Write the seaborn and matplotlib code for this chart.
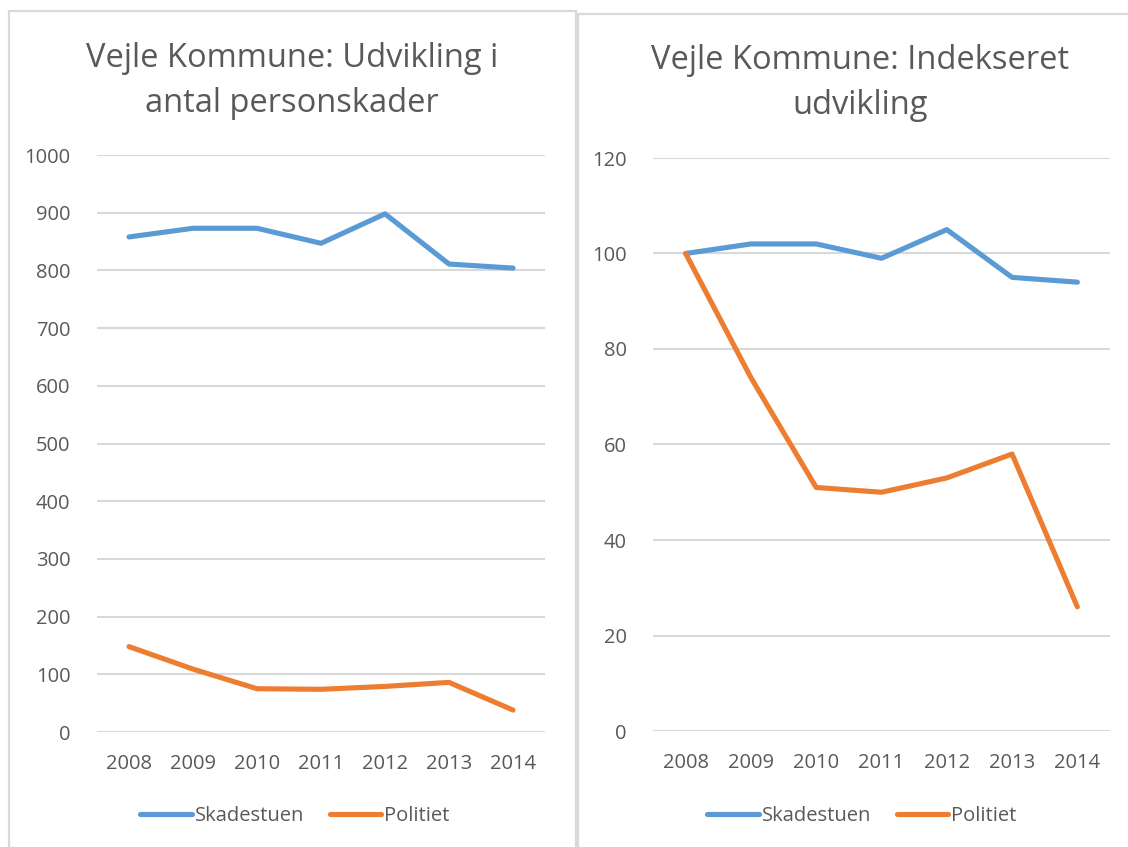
import numpy as np
import pandas as pd
import seaborn as sns
import matplotlib.pyplot as plt
from matplotlib.patches import Rectangle

years = ['2008', '2009', '2010', '2011', '2012', '2013', '2014']
skadestuen = [858, 873, 873, 847, 898, 811, 804]
politiet = [148, 109, 75, 74, 79, 86, 38]
skadestuen_idx = [100, 102, 102, 99, 105, 95, 94]
politiet_idx = [100, 74, 51, 50, 53, 58, 26]
series = ['Skadestuen', 'Politiet']
colors = ['#5B9BD5', '#ED7D31']

sns.set_theme(style='white')
plt.rcParams['font.family'] = ['Open Sans', 'DejaVu Sans']
txt = '#595959'
grid = '#D9D9D9'

def long_df(a, b):
    return pd.DataFrame({'year': years * 2,
                         'value': a + b,
                         'serie': [series[0]] * len(years) + [series[1]] * len(years)})

fig = plt.figure(figsize=(11.28, 8.47), dpi=100)
W, H = 1128, 847

# panel borders (pixel coords -> figure fraction)
for x0, y0, x1, y1 in [(9, 11, 576, 860), (578, 14, 1150, 860)]:
    fig.patches.append(Rectangle((x0 / W, 1 - y1 / H), (x1 - x0) / W, (y1 - y0) / H,
                                 transform=fig.transFigure, fill=False,
                                 edgecolor=grid, lw=1.6, zorder=0))

panels = [
    dict(rect=[97 / W, 1 - 732 / H, 448 / W, 577 / H], df=long_df(skadestuen, politiet),
         ylim=(0, 1000), step=100, title='Vejle Kommune: Udvikling i\nantal personskader',
         tx=292 / W, ty=1 - 81 / H, lx=295 / W),
    dict(rect=[653 / W, 1 - 731 / H, 457 / W, 573 / H], df=long_df(skadestuen_idx, politiet_idx),
         ylim=(0, 120), step=20, title='Vejle Kommune: Indekseret\nudvikling',
         tx=860 / W, ty=1 - 83 / H, lx=862 / W),
]

for p in panels:
    ax = fig.add_axes(p['rect'])
    sns.lineplot(data=p['df'], x='year', y='value', hue='serie', palette=colors,
                 linewidth=3.7, sort=False, ax=ax, solid_capstyle='round')
    ax.set_xlim(-0.5, len(years) - 0.5)
    ax.set_ylim(*p['ylim'])
    ax.set_yticks(np.arange(p['ylim'][0], p['ylim'][1] + 1, p['step']))
    ax.yaxis.grid(True, color=grid, lw=1.5)
    ax.set_axisbelow(True)
    for s in ax.spines.values():
        s.set_visible(False)
    ax.tick_params(axis='both', length=0, labelsize=14.5, colors=txt)
    ax.tick_params(axis='y', pad=19)
    ax.tick_params(axis='x', pad=16)
    ax.set_xlabel('')
    ax.set_ylabel('')
    ax.set_facecolor('none')
    ax.legend(loc='center', bbox_to_anchor=(p['lx'], 1 - 816 / H),
              bbox_transform=fig.transFigure, ncol=2, frameon=False,
              fontsize=14.5, labelcolor=txt, handlelength=2.55, handletextpad=0.15,
              columnspacing=1.3)
    fig.text(p['tx'], p['ty'], p['title'], ha='center', va='center', fontsize=23.5,
             color=txt, linespacing=1.45)

fig.savefig('out.png', dpi=100, facecolor='white')
